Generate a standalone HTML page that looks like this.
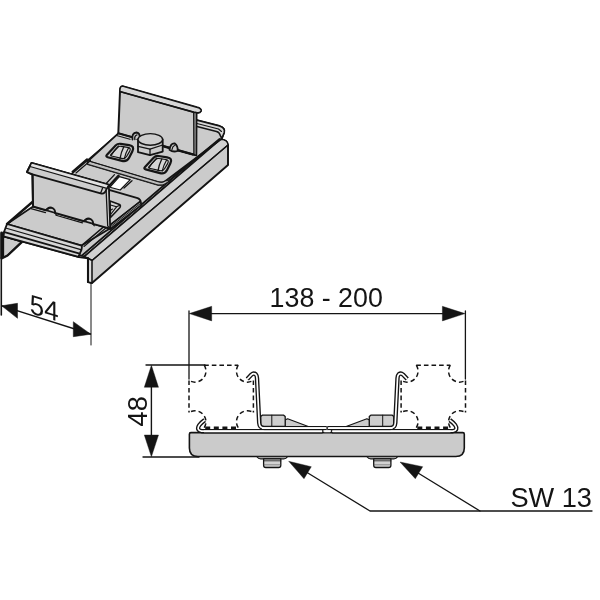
<!DOCTYPE html>
<html lang="de">
<head>
<meta charset="utf-8">
<title>SW 13</title>
<style>
html,body{margin:0;padding:0;background:#fff;}
body{width:600px;height:600px;overflow:hidden;}
svg{display:block;filter:grayscale(1);font-family:"Liberation Sans",Arial,Helvetica,sans-serif;}
</style>
</head>
<body>
<svg width="600" height="600" viewBox="0 0 600 600">
<rect width="600" height="600" fill="#ffffff"/>
<g id="iso">
<polygon points="3.0,233.0 139.0,116.0 220.5,139.4 84.5,256.5" fill="#cbcbcb" stroke="#141414" stroke-width="1.56" stroke-linejoin="round" />
<path d="M84.5,256.5 L220.5,139.4 Q227.5,139.5 228.0,145.0 L228.0,165.0 L92.0,283.0 L88,282 L88,258 Z" fill="#cbcbcb" stroke="#141414" stroke-width="1.95" stroke-linejoin="round" stroke-linecap="round" />
<path d="M84.5,256.5 L220.5,139.4 Q227.5,139.5 228.0,145.0 L92.0,260.5 L88,258 Z" fill="#d2d2d2" stroke="#141414" stroke-width="1.3" stroke-linejoin="round" stroke-linecap="round" />
<polyline points="92.0,260.5 228.0,145.0" fill="none" stroke="#141414" stroke-width="1.3" stroke-linejoin="round" stroke-linecap="round" />
<polyline points="82.0,255.5 217.5,139.5" fill="none" stroke="#141414" stroke-width="1.69" stroke-linejoin="round" stroke-linecap="round" />
<polygon points="88.0,258.3 92.0,260.5 92.0,283.0 88.0,282.0" fill="#dedede" stroke="#141414" stroke-width="1.56" stroke-linejoin="round" />
<polyline points="88.0,259.0 88.0,282.0" fill="none" stroke="#141414" stroke-width="2.08" stroke-linejoin="round" stroke-linecap="round" />
<polyline points="1.6,233.0 1.6,258.0" fill="none" stroke="#141414" stroke-width="2.86" stroke-linejoin="round" stroke-linecap="round" />
<polygon points="3.5,236.5 21.5,242.0 7.5,255.5 3.5,257.5" fill="#cbcbcb" stroke="#141414" stroke-width="1.3" stroke-linejoin="round" />
<polyline points="21.5,242.3 7.5,255.5 2.5,258.0" fill="none" stroke="#141414" stroke-width="2.34" stroke-linejoin="round" stroke-linecap="round" />
<polyline points="3.5,236.3 79.0,257.0 88.0,258.3" fill="none" stroke="#141414" stroke-width="2.08" stroke-linejoin="round" stroke-linecap="round" />
<path d="M118.3,133.3 L88.0,161.2 L158.5,182.0 Q162.5,183.4 165.5,181.0 L221.8,138.6 L224.2,132.5 Q225.5,128 219.5,126 L196,120 L160,110 Z" fill="#cbcbcb" stroke="#141414" stroke-width="1.82" stroke-linejoin="round" stroke-linecap="round" />
<path d="M196,120 L219.5,126 Q225.5,128 224.2,132.5 L221.8,138.6 L219.8,134.5 Q219.5,132.5 216.5,131.6 L196,126.3 Z" fill="#d6d6d6" stroke="#141414" stroke-width="1.56" stroke-linejoin="round" stroke-linecap="round" />
<polyline points="196.0,123.3 218.5,129.0 221.5,131.5" fill="none" stroke="#141414" stroke-width="1.17" stroke-linejoin="round" stroke-linecap="round" />
<path d="M87.5,162.2 L87.7,164.2 L158.0,184.9 Q163.3,186.0 167.0,182.6 L219.5,139.0" fill="none" stroke="#141414" stroke-width="1.82" stroke-linejoin="round" stroke-linecap="round" />
<path d="M88.0,161.2 L87.7,164.2 L158.0,184.9 Q163.3,186.0 167.0,182.6 L170.5,180.0 L165.5,181.0 Q162.5,183.4 158.5,182.0 Z" fill="#bdbdbd" stroke="#141414" stroke-width="0.91" stroke-linejoin="round" stroke-linecap="round" />
<path d="M115.6,145.6 Q117.6,143.4 120.6,143.8 L129.1,145.1 Q135.0,146.0 132.3,151.4 L129.1,157.7 Q126.8,162.2 122.0,160.9 L107.7,157.2 Q105.4,156.6 107.0,154.8 Z" fill="#cbcbcb" stroke="#141414" stroke-width="2.21" stroke-linejoin="round" stroke-linecap="round" />
<path d="M117.6,147.5 Q119.0,146.0 121.0,146.3 L127.6,147.3 Q131.6,147.9 129.6,151.4 L126.7,156.3 Q125.0,159.2 121.7,158.4 L111.5,156.0 Q110.0,155.6 111.0,154.5 Z" fill="#d6d6d6" stroke="#141414" stroke-width="1.17" stroke-linejoin="round" stroke-linecap="round" />
<path d="M123.8,146.8 Q121.0,152.5 120.0,158.6" fill="none" stroke="#141414" stroke-width="1.3" stroke-linejoin="round" stroke-linecap="round" />
<path d="M128.6,147.8 Q125.5,153.0 124.2,159.0" fill="none" stroke="#141414" stroke-width="1.17" stroke-linejoin="round" stroke-linecap="round" />
<path d="M118.6,146.0 Q113.5,150.8 111.0,155.8" fill="none" stroke="#141414" stroke-width="1.17" stroke-linejoin="round" stroke-linecap="round" />
<path d="M153.6,157.8 Q155.6,155.6 158.6,156.0 L167.1,157.3 Q173.0,158.2 170.3,163.6 L167.1,169.9 Q164.8,174.4 160.0,173.1 L145.7,169.4 Q143.4,168.8 145.0,167.0 Z" fill="#cbcbcb" stroke="#141414" stroke-width="2.21" stroke-linejoin="round" stroke-linecap="round" />
<path d="M155.6,159.7 Q157.0,158.2 159.0,158.5 L165.6,159.5 Q169.6,160.1 167.6,163.6 L164.7,168.5 Q163.0,171.4 159.7,170.6 L149.5,168.2 Q148.0,167.8 149.0,166.7 Z" fill="#d6d6d6" stroke="#141414" stroke-width="1.17" stroke-linejoin="round" stroke-linecap="round" />
<path d="M161.8,159.0 Q159.0,164.7 158.0,170.8" fill="none" stroke="#141414" stroke-width="1.3" stroke-linejoin="round" stroke-linecap="round" />
<path d="M166.6,160.0 Q163.5,165.2 162.2,171.2" fill="none" stroke="#141414" stroke-width="1.17" stroke-linejoin="round" stroke-linecap="round" />
<path d="M156.6,158.2 Q151.5,163.0 149.0,168.0" fill="none" stroke="#141414" stroke-width="1.17" stroke-linejoin="round" stroke-linecap="round" />
<path d="M120.0,91 Q119.8,86.5 122.5,86.2 L196.7,107.3 Q201.5,108.5 201,111 Q199.5,113.5 196.5,112.5 L196.3,155.3 L118.3,133.3 Z" fill="#cbcbcb" stroke="#141414" stroke-width="1.95" stroke-linejoin="round" stroke-linecap="round" />
<path d="M120.0,91 Q119.8,86.5 122.5,86.2 L196.7,107.3 Q201.5,108.5 201,111 Q199.5,113.5 196.5,112.5 L193.5,112 L120.8,91.8 Z" fill="#d6d6d6" stroke="#141414" stroke-width="1.3" stroke-linejoin="round" stroke-linecap="round" />
<polyline points="120.8,91.8 193.5,112.2" fill="none" stroke="#141414" stroke-width="1.69" stroke-linejoin="round" stroke-linecap="round" />
<polygon points="193.7,112.6 196.4,112.6 196.3,155.3 193.9,154.6" fill="#9a9a9a" stroke="#141414" stroke-width="1.3" stroke-linejoin="round" />
<polyline points="118.3,133.3 193.8,154.6" fill="none" stroke="#141414" stroke-width="1.69" stroke-linejoin="round" stroke-linecap="round" />
<polyline points="116.5,135.5 130.0,139.3" fill="none" stroke="#141414" stroke-width="1.17" stroke-linejoin="round" stroke-linecap="round" />
<path d="M132.5,139.5 Q131.5,133 136.5,132.5 Q140.5,133 139.5,138.5" fill="#cbcbcb" stroke="#141414" stroke-width="1.82" stroke-linejoin="round" stroke-linecap="round" />
<path d="M134.8,139.5 Q134.3,135.5 137,134.8" fill="none" stroke="#141414" stroke-width="1.3" stroke-linejoin="round" stroke-linecap="round" />
<path d="M169.5,149.8 Q170.5,143 174.5,143.3 Q178.5,146.5 177.5,151 Q173,152.5 169.5,149.8 Z" fill="#cbcbcb" stroke="#141414" stroke-width="1.82" stroke-linejoin="round" stroke-linecap="round" />
<path d="M172,149.5 Q172.5,146.2 174.5,145.5" fill="none" stroke="#141414" stroke-width="1.17" stroke-linejoin="round" stroke-linecap="round" />
<polyline points="162.0,146.5 169.5,148.6" fill="none" stroke="#141414" stroke-width="1.17" stroke-linejoin="round" stroke-linecap="round" />
<polyline points="178.0,151.0 192.5,155.0" fill="none" stroke="#141414" stroke-width="1.17" stroke-linejoin="round" stroke-linecap="round" />
<path d="M138,139.5 L138,152.2 L150,155.2 L162.7,151.6 L162.7,139.5 Z" fill="#cbcbcb" stroke="#141414" stroke-width="1.82" stroke-linejoin="round" stroke-linecap="round" />
<path d="M138,146.3 L150,149.2 L162.7,145" fill="none" stroke="#141414" stroke-width="1.3" stroke-linejoin="round" stroke-linecap="round" />
<polyline points="150.0,149.2 150.0,155.2" fill="none" stroke="#141414" stroke-width="1.3" stroke-linejoin="round" stroke-linecap="round" />
<ellipse cx="150.3" cy="139.4" rx="12.3" ry="5.8" fill="#cdcdcd" stroke="#141414" stroke-width="1.4"/>
<polygon points="119.4,176.6 130.2,179.6 120.2,190.0 110.0,187.2" fill="#ffffff" stroke="#141414" stroke-width="1.17" stroke-linejoin="round" />
<polyline points="72.5,171.8 87.0,159.3" fill="none" stroke="#141414" stroke-width="2.08" stroke-linejoin="round" stroke-linecap="round" />
<polyline points="76.0,173.0 90.5,160.5" fill="none" stroke="#141414" stroke-width="1.17" stroke-linejoin="round" stroke-linecap="round" />
<polyline points="105.5,184.2 114.5,174.6" fill="none" stroke="#141414" stroke-width="1.3" stroke-linejoin="round" stroke-linecap="round" />
<polyline points="109.0,186.0 118.6,175.6" fill="none" stroke="#141414" stroke-width="2.21" stroke-linejoin="round" stroke-linecap="round" />
<polyline points="132.0,180.8 124.0,188.0" fill="none" stroke="#141414" stroke-width="1.3" stroke-linejoin="round" stroke-linecap="round" />
<path d="M109,189.8 L137.6,198.2 Q140.6,199.4 140.8,202.2 L140.8,205.3 L110.5,229 L108,228 Z" fill="#cbcbcb" stroke="#141414" stroke-width="1.82" stroke-linejoin="round" stroke-linecap="round" />
<path d="M139.9,201.6 L140.8,202.4 L140.8,205.3 L110.2,228.8 L110.2,224.8 Z" fill="#aaaaaa" stroke="#141414" stroke-width="1.17" stroke-linejoin="round" stroke-linecap="round" />
<polyline points="139.9,201.6 110.2,224.8" fill="none" stroke="#141414" stroke-width="1.56" stroke-linejoin="round" stroke-linecap="round" />
<polyline points="140.5,203.5 110.2,226.9" fill="none" stroke="#141414" stroke-width="0.91" stroke-linejoin="round" stroke-linecap="round" />
<path d="M110,201 L119.5,204.5 Q121,205.5 120,207.5 L110.5,217.5 Z" fill="#d2d2d2" stroke="#141414" stroke-width="1.56" stroke-linejoin="round" stroke-linecap="round" />
<polyline points="110.5,205.0 116.5,206.8 111.0,214.0" fill="none" stroke="#141414" stroke-width="1.17" stroke-linejoin="round" stroke-linecap="round" />
<polyline points="116.5,206.8 119.8,205.3" fill="none" stroke="#141414" stroke-width="1.17" stroke-linejoin="round" stroke-linecap="round" />
<polyline points="112.5,209.0 110.2,210.5" fill="none" stroke="#141414" stroke-width="1.17" stroke-linejoin="round" stroke-linecap="round" />
<polygon points="33.0,206.5 7.0,224.0 81.6,245.6 110.0,228.6" fill="#cbcbcb" stroke="#141414" stroke-width="1.69" stroke-linejoin="round" />
<path d="M7,224 L81.6,245.6 Q82.5,248 80.5,252 L78.5,256.8 L3.5,236.3 L4.2,231.5 Z" fill="#d6d6d6" stroke="#141414" stroke-width="1.82" stroke-linejoin="round" stroke-linecap="round" />
<polyline points="5.5,228.0 80.8,249.6" fill="none" stroke="#141414" stroke-width="1.3" stroke-linejoin="round" stroke-linecap="round" />
<polyline points="4.5,232.2 79.6,253.6" fill="none" stroke="#141414" stroke-width="1.82" stroke-linejoin="round" stroke-linecap="round" />
<polyline points="7.0,224.0 33.0,201.5" fill="none" stroke="#141414" stroke-width="2.34" stroke-linejoin="round" stroke-linecap="round" />
<polyline points="81.6,245.6 107.5,223.5" fill="none" stroke="#141414" stroke-width="1.56" stroke-linejoin="round" stroke-linecap="round" />
<polyline points="84.0,246.5 108.5,225.7" fill="none" stroke="#141414" stroke-width="1.17" stroke-linejoin="round" stroke-linecap="round" />
<path d="M27.0,172 L31.5,163 L108.6,184.8 L110,228.6 L93.0,223.9 A4.7,4.3 16 0 0 84.0,221.3 L55.0,212.9 A4.7,4.3 16 0 0 46.0,210.3 L33,206.5 L32.5,174.5 Z" fill="#cbcbcb" stroke="#141414" stroke-width="1.95" stroke-linejoin="round" stroke-linecap="round" />
<path d="M47.6,210.5 A3.2,2.9 16 0 1 51.2,208.0" fill="none" stroke="#141414" stroke-width="1.04" stroke-linejoin="round" stroke-linecap="round" />
<polyline points="55.0,212.9 56.2,214.7" fill="none" stroke="#141414" stroke-width="1.3" stroke-linejoin="round" stroke-linecap="round" />
<path d="M85.6,221.5 A3.2,2.9 16 0 1 89.2,219.0" fill="none" stroke="#141414" stroke-width="1.04" stroke-linejoin="round" stroke-linecap="round" />
<polyline points="93.0,223.9 94.2,225.7" fill="none" stroke="#141414" stroke-width="1.3" stroke-linejoin="round" stroke-linecap="round" />
<polygon points="106.0,187.5 108.6,184.8 110.0,228.6 107.7,225.8" fill="#d2d2d2" stroke="#141414" stroke-width="1.3" stroke-linejoin="round" />
<path d="M27.0,172 L31.5,163 L108.6,184.8 L106.3,189.5 Q104.8,194.6 100.6,193.4 L32.5,174.3 Z" fill="#cdcdcd" stroke="#141414" stroke-width="1.82" stroke-linejoin="round" stroke-linecap="round" />
<polygon points="31.5,163.0 108.6,184.8 106.8,188.4 30.0,166.5" fill="#e2e2e2" stroke="#141414" stroke-width="1.17" stroke-linejoin="round" />
<polyline points="100.6,193.2 102.6,188.0" fill="none" stroke="#141414" stroke-width="1.3" stroke-linejoin="round" stroke-linecap="round" />
<polyline points="32.5,174.5 33.0,206.5" fill="none" stroke="#141414" stroke-width="1.95" stroke-linejoin="round" stroke-linecap="round" />
<polyline points="31.0,208.6 45.5,212.6" fill="none" stroke="#141414" stroke-width="1.17" stroke-linejoin="round" stroke-linecap="round" />
<polyline points="56.0,215.2 82.5,222.9" fill="none" stroke="#141414" stroke-width="1.17" stroke-linejoin="round" stroke-linecap="round" />
</g>
<g id="dim54">
<polyline points="1.3,258.0 1.3,315.0" fill="none" stroke="#141414" stroke-width="1.6" stroke-linejoin="round" stroke-linecap="round" />
<polyline points="91.0,283.0 91.0,345.0" fill="none" stroke="#141414" stroke-width="1.0" stroke-linejoin="round" stroke-linecap="round" />
<polyline points="2.0,305.9 90.5,334.0" fill="none" stroke="#141414" stroke-width="1.4" stroke-linejoin="round" stroke-linecap="round" />
<polygon points="1.7,305.8 17.5,303.3 17.5,318.3" fill="#141414" stroke="#141414" stroke-width="0.5" stroke-linejoin="round" />
<polygon points="90.8,334.2 73.3,321.7 73.3,336.7" fill="#141414" stroke="#141414" stroke-width="0.5" stroke-linejoin="round" />
<text transform="matrix(0.95,0.29,0,1,29.8,312.9)" font-size="27.2" fill="#141414">54</text>
</g>
<g id="side">
<polyline points="189.0,311.0 189.0,379.0" fill="none" stroke="#141414" stroke-width="1.3" stroke-linejoin="round" stroke-linecap="round" />
<polyline points="465.4,311.0 465.4,379.0" fill="none" stroke="#141414" stroke-width="1.3" stroke-linejoin="round" stroke-linecap="round" />
<polyline points="200.0,313.6 455.0,313.6" fill="none" stroke="#141414" stroke-width="1.4" stroke-linejoin="round" stroke-linecap="round" />
<polygon points="189.3,313.6 211.7,306.3 211.7,320.9" fill="#141414" stroke="#141414" stroke-width="0.4" stroke-linejoin="round" />
<polygon points="465.0,313.6 442.4,306.3 442.4,320.9" fill="#141414" stroke="#141414" stroke-width="0.4" stroke-linejoin="round" />
<text x="269.6" y="307.3" font-size="26.8" fill="#141414">138 - 200</text>
<polyline points="146.0,365.0 205.0,365.0" fill="none" stroke="#141414" stroke-width="1.3" stroke-linejoin="round" stroke-linecap="round" />
<polyline points="143.0,457.0 199.0,457.0" fill="none" stroke="#141414" stroke-width="1.3" stroke-linejoin="round" stroke-linecap="round" />
<polyline points="151.4,380.0 151.4,440.0" fill="none" stroke="#141414" stroke-width="1.4" stroke-linejoin="round" stroke-linecap="round" />
<polygon points="151.4,365.3 144.3,387.3 158.5,387.3" fill="#141414" stroke="#141414" stroke-width="0.4" stroke-linejoin="round" />
<polygon points="151.4,456.8 144.3,435.0 158.5,435.0" fill="#141414" stroke="#141414" stroke-width="0.4" stroke-linejoin="round" />
<text transform="translate(147,426.4) rotate(-90)" font-size="27.2" fill="#141414">48</text>
<polyline points="204.2,365.2 238.2,365.2" fill="none" stroke="#141414" stroke-width="1.5" stroke-linejoin="round" stroke-linecap="butt" stroke-dasharray="4.6 3.0"/>
<polyline points="205.2,427.9 237.2,427.9" fill="none" stroke="#141414" stroke-width="2.6" stroke-linejoin="round" stroke-linecap="butt" stroke-dasharray="5 3.6"/>
<polyline points="189.0,380.4 189.0,412.5" fill="none" stroke="#141414" stroke-width="1.5" stroke-linejoin="round" stroke-linecap="butt" stroke-dasharray="4.6 3.0"/>
<polyline points="253.4,380.4 253.4,412.5" fill="none" stroke="#141414" stroke-width="1.5" stroke-linejoin="round" stroke-linecap="butt" stroke-dasharray="4.6 3.0"/>
<path d="M204.2,365.2 A11.0,11.0 0 0 1 189.0,380.4" fill="none" stroke="#141414" stroke-width="1.5" stroke-linejoin="round" stroke-linecap="butt" stroke-dasharray="4.6 3.0"/>
<path d="M238.2,365.2 A11.0,11.0 0 0 0 253.4,380.4" fill="none" stroke="#141414" stroke-width="1.5" stroke-linejoin="round" stroke-linecap="butt" stroke-dasharray="4.6 3.0"/>
<path d="M204.2,427.7 A11.0,11.0 0 0 0 189.0,412.5" fill="none" stroke="#141414" stroke-width="1.5" stroke-linejoin="round" stroke-linecap="butt" stroke-dasharray="4.6 3.0"/>
<path d="M238.2,427.7 A11.0,11.0 0 0 1 253.4,412.5" fill="none" stroke="#141414" stroke-width="1.5" stroke-linejoin="round" stroke-linecap="butt" stroke-dasharray="4.6 3.0"/>
<polyline points="416.3,365.2 450.3,365.2" fill="none" stroke="#141414" stroke-width="1.5" stroke-linejoin="round" stroke-linecap="butt" stroke-dasharray="4.6 3.0"/>
<polyline points="417.3,427.9 449.3,427.9" fill="none" stroke="#141414" stroke-width="2.6" stroke-linejoin="round" stroke-linecap="butt" stroke-dasharray="5 3.6"/>
<polyline points="401.1,380.4 401.1,412.5" fill="none" stroke="#141414" stroke-width="1.5" stroke-linejoin="round" stroke-linecap="butt" stroke-dasharray="4.6 3.0"/>
<polyline points="465.5,380.4 465.5,412.5" fill="none" stroke="#141414" stroke-width="1.5" stroke-linejoin="round" stroke-linecap="butt" stroke-dasharray="4.6 3.0"/>
<path d="M416.3,365.2 A11.0,11.0 0 0 1 401.1,380.4" fill="none" stroke="#141414" stroke-width="1.5" stroke-linejoin="round" stroke-linecap="butt" stroke-dasharray="4.6 3.0"/>
<path d="M450.3,365.2 A11.0,11.0 0 0 0 465.5,380.4" fill="none" stroke="#141414" stroke-width="1.5" stroke-linejoin="round" stroke-linecap="butt" stroke-dasharray="4.6 3.0"/>
<path d="M416.3,427.7 A11.0,11.0 0 0 0 401.1,412.5" fill="none" stroke="#141414" stroke-width="1.5" stroke-linejoin="round" stroke-linecap="butt" stroke-dasharray="4.6 3.0"/>
<path d="M450.3,427.7 A11.0,11.0 0 0 1 465.5,412.5" fill="none" stroke="#141414" stroke-width="1.5" stroke-linejoin="round" stroke-linecap="butt" stroke-dasharray="4.6 3.0"/>
<path d="M190.9,432.6 L462.8,432.6 Q464.3,432.6 464.3,434.20000000000005 L464.3,448 Q464.3,456.5 455.8,456.5 L197.9,456.5 Q189.4,456.5 189.4,448 L189.4,434.20000000000005 Q189.4,432.6 190.9,432.6 Z" fill="#cbcbcb" stroke="#141414" stroke-width="1.6" stroke-linejoin="round" stroke-linecap="round" />
<path d="M285.0,426.4 L285.0,420.0 L287.6,418.8 L308.3,426.5 Z" fill="#cbcbcb" stroke="#141414" stroke-width="1.2" stroke-linejoin="round" stroke-linecap="round" />
<path d="M260.7,426.4 L260.7,416.6 L262.2,415.2 L283.7,415.2 L285.2,416.6 L285.2,426.4 Z" fill="#cecece" stroke="#141414" stroke-width="1.3" stroke-linejoin="round" stroke-linecap="round" />
<path d="M271.8,415.2 L271.8,426.4" fill="none" stroke="#141414" stroke-width="1.0" stroke-linejoin="round" stroke-linecap="round" />
<path d="M204.7,420.1 Q201.2,422.6 199.4,425.0 Q196.0,429.9 201.6,431.2 L322.6,431.2" fill="none" stroke="#141414" stroke-width="4.4" stroke-linejoin="round" stroke-linecap="butt" />
<path d="M204.7,420.1 Q201.2,422.6 199.4,425.0 Q196.0,429.9 201.6,431.2 L322.6,431.2" fill="none" stroke="#ffffff" stroke-width="1.7" stroke-linejoin="round" stroke-linecap="butt" />
<path d="M247.3,379.0 L251.5,374.6 Q253.6,372.7 255.7,374.3 Q256.9,375.5 257.0,378.2 L259.2,423.0 Q259.5,428.1 264.6,428.1 L326.6,428.1" fill="none" stroke="#141414" stroke-width="4.4" stroke-linejoin="round" stroke-linecap="butt" />
<path d="M247.3,379.0 L251.5,374.6 Q253.6,372.7 255.7,374.3 Q256.9,375.5 257.0,378.2 L259.2,423.0 Q259.5,428.1 264.6,428.1 L326.6,428.1" fill="none" stroke="#ffffff" stroke-width="1.7" stroke-linejoin="round" stroke-linecap="butt" />
<path d="M262.0,428.1 L325.9,428.1" fill="none" stroke="#ffffff" stroke-width="1.7" stroke-linejoin="round" stroke-linecap="butt" />
<path d="M204.0,431.3 L322.0,431.3" fill="none" stroke="#ffffff" stroke-width="1.7" stroke-linejoin="round" stroke-linecap="butt" />
<path d="M256.9,456.7 L287.5,456.7 Q286.2,458.9 283.7,458.9 L260.7,458.9 Q258.2,458.9 256.9,456.7 Z" fill="#cecece" stroke="#141414" stroke-width="1.1" stroke-linejoin="round" stroke-linecap="round" />
<path d="M263.6,458.9 L280.8,458.9 L280.8,465.3 Q280.8,467.5 278.6,467.5 L265.8,467.5 Q263.6,467.5 263.6,465.3 Z" fill="#d2d2d2" stroke="#141414" stroke-width="1.3" stroke-linejoin="round" stroke-linecap="round" />
<path d="M263.6,460.8 L280.8,460.8" fill="none" stroke="#141414" stroke-width="0.8" stroke-linejoin="round" stroke-linecap="round" />
<path d="M264.0,464.8 L280.4,464.8" fill="none" stroke="#555555" stroke-width="0.6" stroke-linejoin="round" stroke-linecap="round" />
<path d="M369.5,426.4 L369.5,420.0 L366.9,418.8 L346.2,426.5 Z" fill="#cbcbcb" stroke="#141414" stroke-width="1.2" stroke-linejoin="round" stroke-linecap="round" />
<path d="M393.8,426.4 L393.8,416.6 L392.3,415.2 L370.8,415.2 L369.3,416.6 L369.3,426.4 Z" fill="#cecece" stroke="#141414" stroke-width="1.3" stroke-linejoin="round" stroke-linecap="round" />
<path d="M382.7,415.2 L382.7,426.4" fill="none" stroke="#141414" stroke-width="1.0" stroke-linejoin="round" stroke-linecap="round" />
<path d="M449.8,420.1 Q453.3,422.6 455.1,425.0 Q458.5,429.9 452.9,431.2 L331.9,431.2" fill="none" stroke="#141414" stroke-width="4.4" stroke-linejoin="round" stroke-linecap="butt" />
<path d="M449.8,420.1 Q453.3,422.6 455.1,425.0 Q458.5,429.9 452.9,431.2 L331.9,431.2" fill="none" stroke="#ffffff" stroke-width="1.7" stroke-linejoin="round" stroke-linecap="butt" />
<path d="M407.2,379.0 L403.0,374.6 Q400.9,372.7 398.8,374.3 Q397.6,375.5 397.5,378.2 L395.3,423.0 Q395.0,428.1 389.9,428.1 L327.9,428.1" fill="none" stroke="#141414" stroke-width="4.4" stroke-linejoin="round" stroke-linecap="butt" />
<path d="M407.2,379.0 L403.0,374.6 Q400.9,372.7 398.8,374.3 Q397.6,375.5 397.5,378.2 L395.3,423.0 Q395.0,428.1 389.9,428.1 L327.9,428.1" fill="none" stroke="#ffffff" stroke-width="1.7" stroke-linejoin="round" stroke-linecap="butt" />
<path d="M392.5,428.1 L328.6,428.1" fill="none" stroke="#ffffff" stroke-width="1.7" stroke-linejoin="round" stroke-linecap="butt" />
<path d="M450.5,431.3 L332.5,431.3" fill="none" stroke="#ffffff" stroke-width="1.7" stroke-linejoin="round" stroke-linecap="butt" />
<path d="M397.6,456.7 L367.0,456.7 Q368.3,458.9 370.8,458.9 L393.8,458.9 Q396.3,458.9 397.6,456.7 Z" fill="#cecece" stroke="#141414" stroke-width="1.1" stroke-linejoin="round" stroke-linecap="round" />
<path d="M390.9,458.9 L373.7,458.9 L373.7,465.3 Q373.7,467.5 375.9,467.5 L388.7,467.5 Q390.9,467.5 390.9,465.3 Z" fill="#d2d2d2" stroke="#141414" stroke-width="1.3" stroke-linejoin="round" stroke-linecap="round" />
<path d="M390.9,460.8 L373.7,460.8" fill="none" stroke="#141414" stroke-width="0.8" stroke-linejoin="round" stroke-linecap="round" />
<path d="M390.5,464.8 L374.1,464.8" fill="none" stroke="#555555" stroke-width="0.6" stroke-linejoin="round" stroke-linecap="round" />
<path d="M324.2,431.3 L330.2,431.3" fill="none" stroke="#ffffff" stroke-width="1.9" stroke-linejoin="round" stroke-linecap="butt" />
<polyline points="322.8,429.9 322.8,432.6" fill="none" stroke="#141414" stroke-width="1.0" stroke-linejoin="round" stroke-linecap="round" />
<polyline points="331.6,429.9 331.6,432.6" fill="none" stroke="#141414" stroke-width="1.0" stroke-linejoin="round" stroke-linecap="round" />
<polyline points="327.2,426.6 327.2,429.6" fill="none" stroke="#141414" stroke-width="1.2" stroke-linejoin="round" stroke-linecap="round" />
<polyline points="305.0,471.3 370.0,511.0 592.0,511.0" fill="none" stroke="#141414" stroke-width="1.3" stroke-linejoin="round" stroke-linecap="round" />
<polyline points="416.0,471.8 480.0,511.0" fill="none" stroke="#141414" stroke-width="1.3" stroke-linejoin="round" stroke-linecap="round" />
<polygon points="288.7,461.3 311.3,466.7 304.0,478.7" fill="#141414" stroke="#141414" stroke-width="0.4" stroke-linejoin="round" />
<polygon points="400.0,462.0 422.7,466.7 415.3,478.7" fill="#141414" stroke="#141414" stroke-width="0.4" stroke-linejoin="round" />
<text x="510.4" y="506.8" font-size="27.2" fill="#141414">SW 13</text>
</g>
</svg>
</body>
</html>
